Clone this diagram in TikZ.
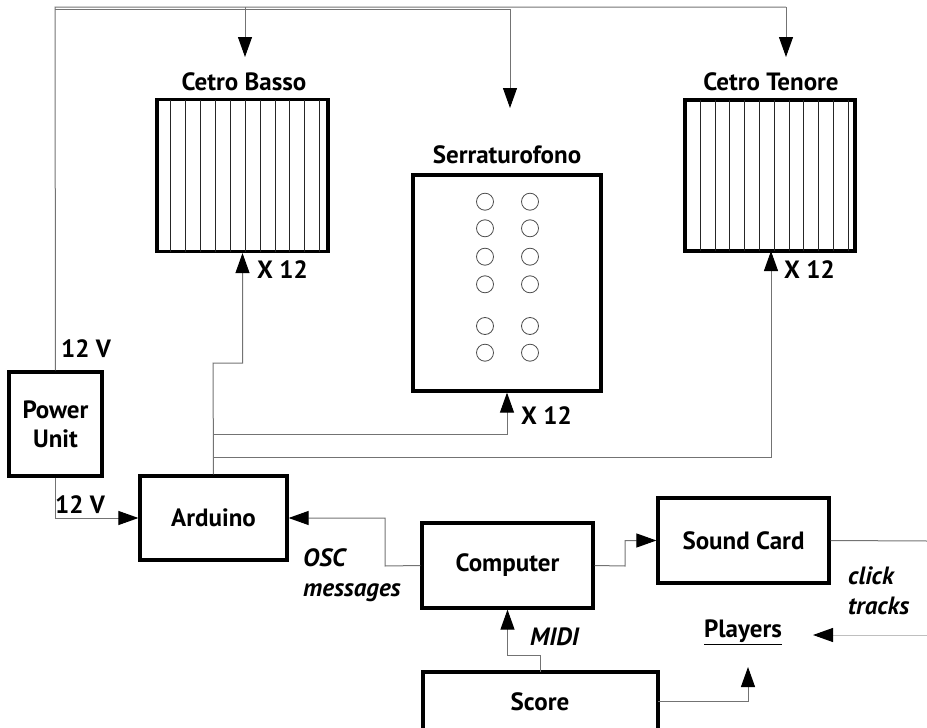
\documentclass[tikz,border=0pt]{standalone}
\usepackage{fontspec}
\setmainfont{PT Sans}
\usetikzlibrary{arrows.meta}
\begin{document}
\begin{tikzpicture}[x=1pt,y=-1pt,
  box/.style={draw=black,line width=3.2pt,inner sep=0pt},
  wire/.style={draw=black!55,line width=1pt},
  tip/.style={-{Triangle[length=20pt,width=14pt,color=black]}},
  lbl/.style={font=\fontsize{25}{29}\selectfont\bfseries,inner sep=0pt},
  ilbl/.style={font=\fontsize{25}{30}\selectfont\bfseries\itshape,inner sep=0pt,align=left},
  stripe/.style={draw=black!85,line width=0.8pt},
  hole/.style={draw=black!70,line width=0.8pt}
]
\useasboundingbox (0,0) rectangle (927,728);

% boxes
\node[box,minimum width=171pt,minimum height=152pt] (basso) at (242.5,175.5) {};
\node[box,minimum width=170pt,minimum height=151pt] (tenore) at (770,175.5) {};
\node[box,minimum width=188pt,minimum height=216pt] (serra) at (507,283) {};
\node[box,minimum width=93pt,minimum height=104pt,lbl,align=center] (power) at (55.5,424) {Power\\Unit};
\node[box,minimum width=147pt,minimum height=84pt,lbl] (arduino) at (213.5,518) {Arduino};
\node[box,minimum width=171pt,minimum height=85pt,lbl] (computer) at (507.5,565.5) {Computer};
\node[box,minimum width=171pt,minimum height=85pt,lbl] (sound) at (743.5,540.5) {Sound Card};
\node[box,minimum width=235pt,minimum height=80pt] (score) at (540.5,712) {};
\node[lbl] (scoretxt) at (540,702) {Score};

% titles
\node[lbl] (tbasso) at (244,82) {Cetro Basso};
\node[lbl] (ttenore) at (771,82) {Cetro Tenore};
\node[lbl] (tserra) at (507,155) {Serraturofono};

% stripes
\foreach \x in {170.7,185.7,200.7,215.3,230,245,260,275,289.7,304.3,319.3}
  \draw[stripe] (\x,99.5) -- (\x,251.5);
\foreach \x in {700,715,729.7,744,759.3,774.3,789,803.7,818.7,833.3,848}
  \draw[stripe] (\x,100) -- (\x,251);

% holes
\foreach \y in {201.7,228.3,256.7,284.3,326,352.7}{
  \draw[hole] (485,\y) circle (8.5pt);
  \draw[hole] (530,\y) circle (8.5pt);
}

% labels
\node[lbl] (v1) at (86,349) {12 V};
\node[lbl] (v2) at (80,505) {12 V};
\node[lbl,anchor=west] (x1) at (257,270) {X 12};
\node[lbl,anchor=west] (x2) at (521,416) {X 12};
\node[lbl,anchor=west] (x3) at (784,270) {X 12};
\node[ilbl,anchor=west] (osc) at (303,575) {OSC\\messages};
\node[ilbl,anchor=west] (midi) at (530,637) {MIDI};
\node[ilbl,anchor=west] (click) at (848,591) {click\\tracks};
\node[lbl] (players) at (743,632) {\underline{Players}};

% coordinates
\coordinate (pt) at (55,7);
\coordinate (bt) at (245,7);
\coordinate (tt) at (786,7);
\coordinate (st0) at (55,9);
\coordinate (st) at (510,9);
\coordinate (ab) at (213,434);
\coordinate (ac) at (213,457);
\coordinate (sndout) at (927,541);
\coordinate (plin) at (927,635);

% power distribution
\draw[wire] (power.north) -- (pt) -- (tt);
\draw[wire,tip] (tt) -- (786,57);
\draw[wire,tip] (bt) -- (245,57);
\draw[wire] (st0) -- (st);
\draw[wire,tip] (st) -- (510,108);

% power to arduino
\draw[wire,tip] (power.south) |- (arduino.west);

% arduino to instruments
\draw[wire,tip] (arduino.north) -- (213,363) -| (basso.south);
\draw[wire,tip] (ab) -| (serra.south);
\draw[wire,tip] (ac) -| (771,251);

% computer links
\draw[wire,tip] (computer.west) -- (385,566) |- (arduino.east);
\draw[wire,tip] (computer.east) -- (625,566) |- (sound.west);
\draw[wire,tip] (540,672) -- (540,655) -| (computer.south);
\draw[wire] (sound.east) -- (sndout);
\draw[wire,draw=black!25,tip] (plin) -- (813,635);
\draw[wire,tip] (658,701) -| (748,667);
\end{tikzpicture}
\end{document}
